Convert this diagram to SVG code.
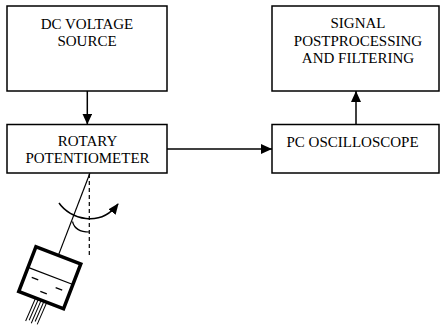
<svg xmlns="http://www.w3.org/2000/svg" width="441" height="330" viewBox="0 0 441 330">
  <defs>
    <style>
      .box { fill: #fff; stroke: #000; stroke-width: 1.5; }
      .lbl { font-family: "Liberation Serif", "Times New Roman", serif; font-size: 15px; fill: #000; }
      .mid { text-anchor: middle; }
      .wire { fill: none; stroke: #000; stroke-width: 1.5; }
      .thin { fill: none; stroke: #000; stroke-width: 1.2; }
    </style>
    <marker id="head" markerUnits="userSpaceOnUse" markerWidth="12" markerHeight="11" refX="11" refY="5" orient="auto">
      <path d="M0,0 L11,5 L0,10 z" fill="#000"/>
    </marker>
    <marker id="turn" markerUnits="userSpaceOnUse" markerWidth="12" markerHeight="10" refX="10" refY="4.5" orient="auto">
      <path d="M0,0 L11,4.5 L0,9 z" fill="#000"/>
    </marker>
  </defs>

  <rect width="441" height="330" fill="#fff"/>

  <!-- signal chain -->
  <g id="connectors">
    <line class="wire" x1="87.3" y1="91" x2="87.3" y2="124.5" marker-end="url(#head)"/>
    <line class="wire" x1="167" y1="149" x2="272" y2="149" marker-end="url(#head)"/>
    <line class="wire" x1="356" y1="124.5" x2="356" y2="91" marker-end="url(#head)"/>
  </g>

  <g id="dc-source">
    <rect class="box" x="7" y="6" width="160" height="85"/>
    <text class="lbl mid" x="87" y="29">DC VOLTAGE</text>
    <text class="lbl mid" x="87" y="46">SOURCE</text>
  </g>

  <g id="potentiometer">
    <rect class="box" x="7" y="124.5" width="160" height="48.5"/>
    <text class="lbl mid" x="87.5" y="146">ROTARY</text>
    <text class="lbl mid" x="87.5" y="163">POTENTIOMETER</text>
  </g>

  <g id="oscilloscope">
    <rect class="box" x="272" y="124.5" width="167" height="48.5"/>
    <text class="lbl" x="286.5" y="146.5">PC OSCILLOSCOPE</text>
  </g>

  <g id="postprocessing">
    <rect class="box" x="272" y="6" width="167" height="85"/>
    <text class="lbl mid" x="358" y="28">SIGNAL</text>
    <text class="lbl mid" x="358" y="45.5">POSTPROCESSING</text>
    <text class="lbl mid" x="358" y="63">AND FILTERING</text>
  </g>

  <!-- rotation of the shaft away from vertical -->
  <g id="rotation">
    <line class="thin" x1="89.3" y1="174" x2="89.3" y2="258" stroke-dasharray="4,3"/>
    <path class="thin" d="M72.5,221.5 Q75,232 89.3,232"/>
    <path class="wire" d="M59,203 C70,219 100,228 118,204" marker-end="url(#turn)"/>
  </g>

  <!-- swinging container on the potentiometer shaft -->
  <g id="pendulum" transform="translate(49.75,277.8) rotate(21)">
    <line class="thin" x1="0" y1="-112" x2="0" y2="-24"/>
    <rect x="-24" y="-24" width="48" height="48" fill="#fff" stroke="#000" stroke-width="3.5"/>
    <line class="thin" x1="-24" y1="-2" x2="24" y2="-2"/>
    <g stroke="#000" stroke-width="1.3">
      <line x1="-17" y1="6" x2="-10" y2="6"/>
      <line x1="9" y1="7" x2="16" y2="7"/>
      <line x1="-4" y1="16" x2="3" y2="16"/>
    </g>
    <g stroke="#000" stroke-width="1">
      <line x1="-6" y1="25" x2="-7" y2="49"/>
      <line x1="-3" y1="25" x2="-4" y2="47"/>
      <line x1="0" y1="25" x2="-1" y2="49"/>
      <line x1="3" y1="25" x2="2" y2="46"/>
      <line x1="6" y1="25" x2="5" y2="48"/>
    </g>
  </g>
</svg>
